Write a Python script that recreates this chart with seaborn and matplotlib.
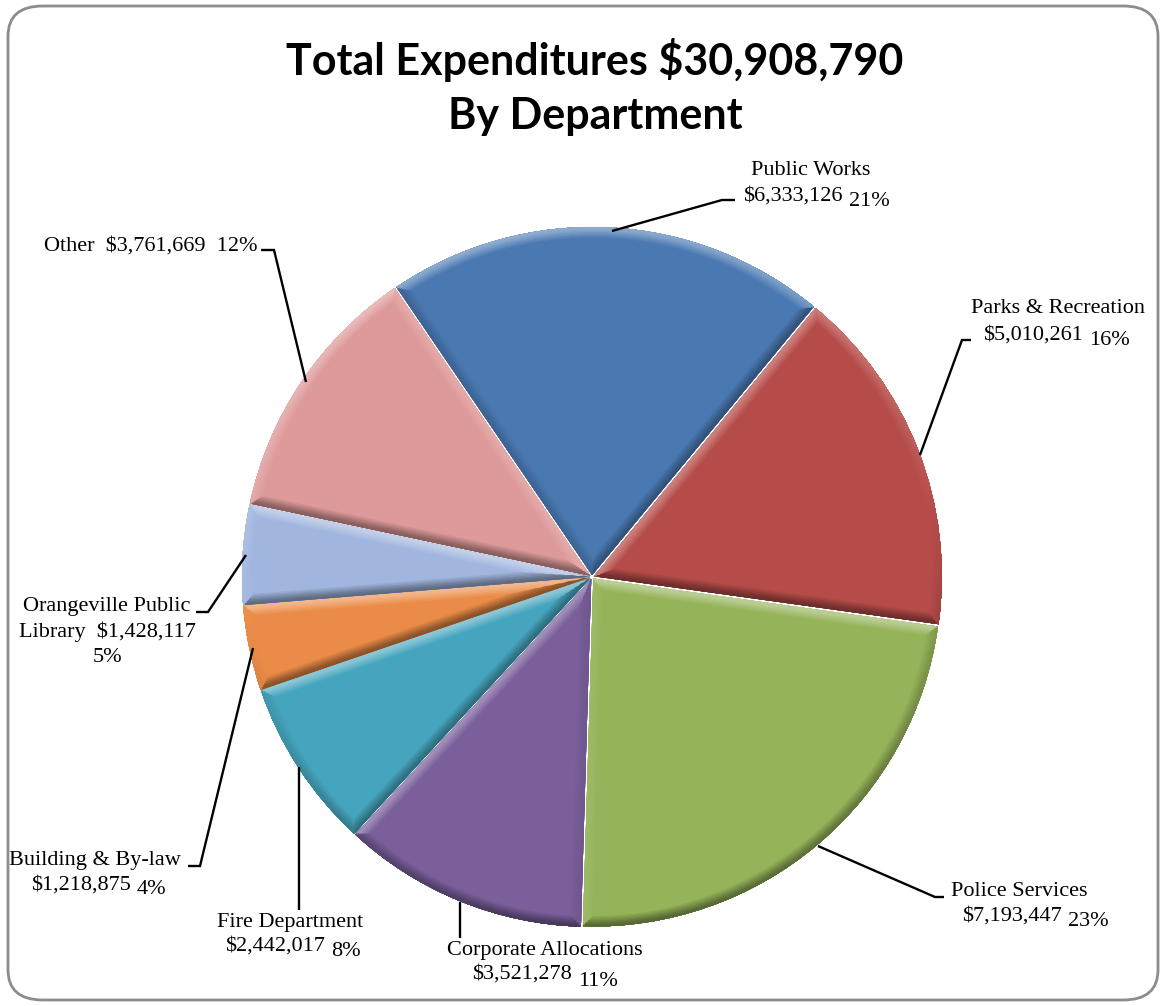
import matplotlib
matplotlib.use("Agg")
import matplotlib.pyplot as plt
import seaborn as sns
import numpy as np
from matplotlib.patches import FancyBboxPatch
from matplotlib.collections import LineCollection
from matplotlib import colors as mcolors

sns.set_theme(style="white")
plt.rcParams['font.family'] = ['Liberation Serif', 'DejaVu Serif']
plt.rcParams['text.color'] = 'black'

departments = ["Public Works", "Parks & Recreation", "Police Services", "Corporate Allocations",
               "Fire Department", "Building & By-law", "Orangeville Public Library", "Other"]
amounts = [6333126, 5010261, 7193447, 3521278, 2442017, 1218875, 1428117, 3761669]
pct_labels = ["21%", "16%", "23%", "11%", "8%", "4%", "5%", "12%"]
amount_labels = ["$6,333,126", "$5,010,261", "$7,193,447", "$3,521,278",
                 "$2,442,017", "$1,218,875", "$1,428,117", "$3,761,669"]
slice_colors = ["#4A79B2", "#B64C49", "#95B359", "#7A5F9B", "#46A5BE", "#EA8C47", "#A1B6DF", "#DE9A9A"]

W, H = 1162, 1006
fig = plt.figure(figsize=(W / 100, H / 100), dpi=100)
fig.patch.set_facecolor("white")
ax = fig.add_axes([0, 0, 1, 1])

def P(px, py):
    return (px, H - py)

def shade(c, f):
    r, g, b = mcolors.to_rgb(c)
    if f < 0:
        return (r * (1 + f), g * (1 + f), b * (1 + f))
    return (r + (1 - r) * f, g + (1 - g) * f, b + (1 - b) * f)

LIGHT = 100.0  # light direction (degrees)

def lit(base, normal_deg, strength):
    d = np.cos(np.radians(normal_deg - LIGHT))
    if d >= 0:
        return shade(base, 0.38 * d * strength)
    return shade(base, -0.42 * (-d) * strength)

center = P(592, 577)
R = 348
expl = [2] * len(amounts)

wedges, _ = ax.pie(amounts, colors=slice_colors, startangle=124.2, counterclock=False,
                   center=center, radius=R, explode=expl, frame=True,
                   wedgeprops=dict(linewidth=0))

def bevel(w, base):
    cx, cy = w.center
    r = w.r
    t1, t2 = w.theta1, w.theta2
    segs, normals = [], []
    for ang, nang in [(t1, t1 - 90), (t2, t2 + 90)]:
        a = np.radians(ang)
        segs.append([(cx, cy), (cx + r * np.cos(a), cy + r * np.sin(a))])
        normals.append(nang)
    n = max(int((t2 - t1) / 1.0), 2)
    th = np.linspace(t1, t2, n + 1)
    for a0, a1 in zip(th[:-1], th[1:]):
        r0, r1 = np.radians(a0), np.radians(a1)
        segs.append([(cx + r * np.cos(r0), cy + r * np.sin(r0)),
                     (cx + r * np.cos(r1), cy + r * np.sin(r1))])
        normals.append((a0 + a1) / 2)
    layers = [(15, 0.15), (13, 0.3), (11, 0.45), (9, 0.6), (7, 0.75), (5, 0.9), (2.5, 1.0)]
    for lw, strength in layers:
        cols = [lit(base, nn, strength) for nn in normals]
        lc = LineCollection(segs, colors=cols, linewidths=lw, capstyle="round")
        ax.add_collection(lc)
        lc.set_clip_path(w)

for w, c in zip(wedges, slice_colors):
    bevel(w, c)

ax.set_xlim(0, W)
ax.set_ylim(0, H)
ax.set_aspect("equal")
ax.axis("off")

fs = 16
line_kw = dict(color="black", lw=1.7, solid_capstyle="butt", solid_joinstyle="miter")

def leader(pts):
    xs = [P(*p)[0] for p in pts]
    ys = [P(*p)[1] for p in pts]
    ax.plot(xs, ys, **line_kw)

def txt(x, y, s, ha="center"):
    ax.text(*P(x, y), s, ha=ha, va="center", fontsize=fs)

def value_pct(split_x, y_val, y_pct, value, pct):
    txt(split_x - 2, y_val, value, ha="right")
    txt(split_x + 4, y_pct, pct, ha="left")

# Public Works
leader([(612, 231), (722, 200), (735, 200)])
txt(811, 170, departments[0])
value_pct(845, 196, 201, amount_labels[0], pct_labels[0])

# Parks & Recreation
leader([(920, 455), (962, 340), (971, 340)])
txt(1058, 308, departments[1])
value_pct(1085, 335, 340, amount_labels[1], pct_labels[1])

# Police Services
leader([(818, 846), (935, 897), (944, 897)])
txt(1019, 891, departments[2])
value_pct(1064, 916, 921, amount_labels[2], pct_labels[2])

# Corporate Allocations
leader([(460, 902), (460, 938)])
txt(545, 951, departments[3])
value_pct(574, 974, 981, amount_labels[3], pct_labels[3])

# Fire Department
leader([(299, 767), (299, 910)])
txt(290, 923, departments[4])
value_pct(327, 946, 952, amount_labels[4], pct_labels[4])

# Building & By-law
leader([(253, 648), (200, 866), (188, 866)])
txt(181, 860, departments[5], ha="right")
value_pct(133, 885, 890, amount_labels[5], pct_labels[5])

# Orangeville Public Library
leader([(246, 555), (208, 612), (196, 612)])
txt(190, 607, "Orangeville Public", ha="right")
txt(196, 632, "Library  " + amount_labels[6], ha="right")
txt(107, 657, pct_labels[6])

# Other
leader([(306, 382), (274, 250), (261, 250)])
txt(258, 246, "Other  " + amount_labels[7] + "  " + pct_labels[7], ha="right")

# Title
title_font = ["Lato", "DejaVu Sans"]
ax.text(*P(595, 60), "Total Expenditures $30,908,790", ha="center", va="center",
        fontsize=31, fontweight="bold", family=title_font, color="black")
ax.text(*P(595, 116), "By Department", ha="center", va="center",
        fontsize=31, fontweight="bold", family=title_font, color="black")

# Rounded border
border = FancyBboxPatch((8 / W, 6 / H), (W - 12) / W, (H - 12) / H,
                        boxstyle="round,pad=0,rounding_size=0.03",
                        transform=fig.transFigure, fill=False, edgecolor="#8C8C8C", linewidth=2)
fig.patches.append(border)

fig.savefig("out.png", dpi=100, facecolor="white")
